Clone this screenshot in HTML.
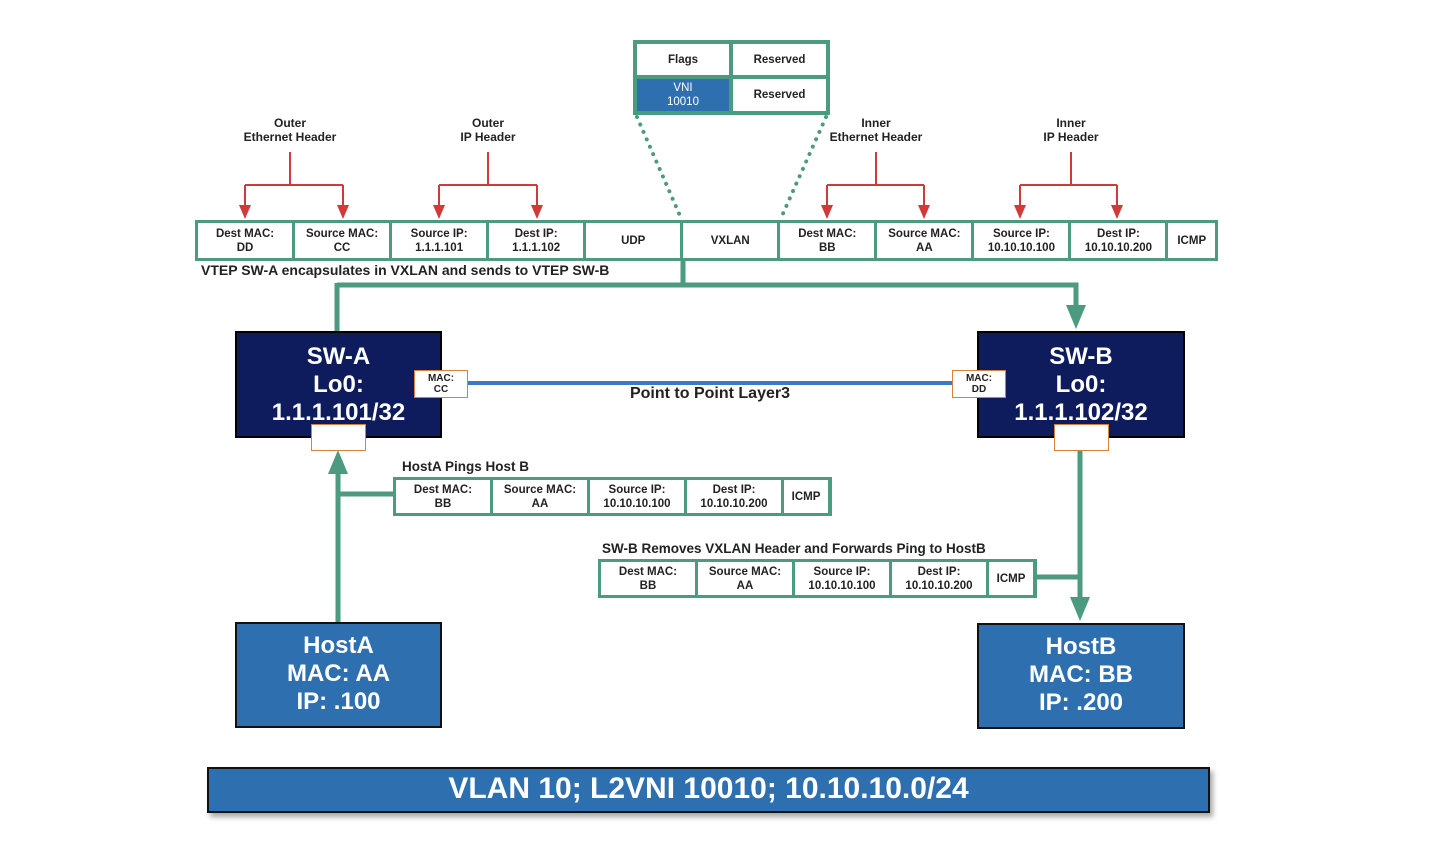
<!DOCTYPE html>
<html><head><meta charset="utf-8"><style>
body{margin:0;width:1430px;height:858px;background:#fff;position:relative;overflow:hidden;font-family:"Liberation Sans",sans-serif}
.abs{position:absolute}
.row{position:absolute;background:#4c9a80;display:flex;gap:3px;padding:3px;box-sizing:border-box}
.row div{background:#fff;display:flex;align-items:center;justify-content:center;text-align:center;font-size:11.5px;font-weight:bold;line-height:14px;color:#222}
.lbl{position:absolute;font-size:12px;font-weight:bold;text-align:center;color:#222;line-height:14px;white-space:nowrap}
.sw{position:absolute;background:#0e1c5e;border:2px solid #000;box-sizing:border-box;color:#fff;font-size:24px;font-weight:bold;text-align:center;line-height:28px;padding-top:10px}
.host{position:absolute;background:#2e6fb0;border:2px solid #111;box-sizing:border-box;color:#fff;font-size:24px;font-weight:bold;text-align:center;line-height:28px;padding-top:8px}
.port{position:absolute;background:#fff;border:1.5px solid #d9803a;box-sizing:border-box;font-size:10px;font-weight:bold;text-align:center;line-height:11px;padding-top:2px;color:#222}
</style></head><body>
<svg class="abs" style="left:0;top:0" width="1430" height="858">
<g stroke="#d03a3a" stroke-width="2" fill="none">
<path d="M290 152V185M245 185H343M245 185V210M343 185V210"/>
<path d="M488 152V185M439 185H537M439 185V210M537 185V210"/>
<path d="M876 152V185M827 185H924M827 185V210M924 185V210"/>
<path d="M1071 152V185M1020 185H1117M1020 185V210M1117 185V210"/>
</g>
<g fill="#d03a3a">
<path d="M239 205h12l-6 14z"/><path d="M337 205h12l-6 14z"/>
<path d="M433 205h12l-6 14z"/><path d="M531 205h12l-6 14z"/>
<path d="M821 205h12l-6 14z"/><path d="M918 205h12l-6 14z"/>
<path d="M1014 205h12l-6 14z"/><path d="M1111 205h12l-6 14z"/>
</g>
<g stroke="#4c9a80" stroke-width="4" stroke-dasharray="0.1 8" stroke-linecap="round">
<line x1="637" y1="117" x2="681" y2="218"/><line x1="826" y1="117" x2="781" y2="218"/>
</g>
<g stroke="#4c9a80" stroke-width="5" fill="none">
<path d="M683 258V285H1076V312M337 285H683M337 283V332"/>
<path d="M338 622V470M338 494H394"/>
<path d="M1080 450V600M1036 577H1080"/>
</g>
<g fill="#4c9a80">
<path d="M1066 305h20l-10 24z"/>
<path d="M328 474h20l-10 -24z"/>
<path d="M1070 597h20l-10 24z"/>
</g>
<line x1="466" y1="383" x2="953" y2="383" stroke="#3a7cc4" stroke-width="4"/>
</svg>

<div class="lbl" style="left:230px;top:116px;width:120px">Outer<br>Ethernet Header</div>
<div class="lbl" style="left:428px;top:116px;width:120px">Outer<br>IP Header</div>
<div class="lbl" style="left:816px;top:116px;width:120px">Inner<br>Ethernet Header</div>
<div class="lbl" style="left:1011px;top:116px;width:120px">Inner<br>IP Header</div>

<div class="row" style="left:633px;top:40px;width:197px;height:75px;flex-wrap:wrap;padding:4px;gap:4px">
<div style="width:92px;height:31px">Flags</div><div style="width:93px;height:31px">Reserved</div>
<div style="width:92px;height:32px;background:#2e6fb0;color:#fff;font-weight:normal">VNI<br>10010</div><div style="width:93px;height:32px">Reserved</div>
</div>

<div class="row" style="left:195px;top:220px;width:1023px;height:41px">
<div style="width:95px">Dest MAC:<br>DD</div><div style="width:95px">Source MAC:<br>CC</div><div style="width:95px">Source IP:<br>1.1.1.101</div><div style="width:95px">Dest IP:<br>1.1.1.102</div><div style="width:95px">UDP</div><div style="width:95px">VXLAN</div><div style="width:95px">Dest MAC:<br>BB</div><div style="width:95px">Source MAC:<br>AA</div><div style="width:95px">Source IP:<br>10.10.10.100</div><div style="width:95px">Dest IP:<br>10.10.10.200</div><div style="width:47px">ICMP</div>
</div>
<div class="lbl" style="left:201px;top:263px;font-size:14px;text-align:left">VTEP SW-A encapsulates in VXLAN and sends to VTEP SW-B</div>

<div class="sw" style="left:235px;top:331px;width:207px;height:107px">SW-A<br>Lo0:<br>1.1.1.101/32</div>
<div class="sw" style="left:977px;top:331px;width:208px;height:107px">SW-B<br>Lo0:<br>1.1.1.102/32</div>
<div class="port" style="left:414px;top:370px;width:54px;height:28px">MAC:<br>CC</div>
<div class="port" style="left:952px;top:370px;width:54px;height:28px">MAC:<br>DD</div>
<div class="port" style="left:311px;top:424px;width:55px;height:27px"></div>
<div class="port" style="left:1054px;top:424px;width:55px;height:27px"></div>
<div class="lbl" style="left:600px;top:387px;width:220px;font-size:16px">Point to Point Layer3</div>

<div class="lbl" style="left:402px;top:460px;font-size:13.5px;text-align:left">HostA Pings Host B</div>
<div class="row" style="left:393px;top:477px;width:439px;height:39px">
<div style="width:94px">Dest MAC:<br>BB</div><div style="width:94px">Source MAC:<br>AA</div><div style="width:94px">Source IP:<br>10.10.10.100</div><div style="width:94px">Dest IP:<br>10.10.10.200</div><div style="width:44px">ICMP</div>
</div>

<div class="lbl" style="left:602px;top:542px;font-size:13.5px;text-align:left">SW-B Removes VXLAN Header and Forwards Ping to HostB</div>
<div class="row" style="left:598px;top:559px;width:439px;height:39px">
<div style="width:94px">Dest MAC:<br>BB</div><div style="width:94px">Source MAC:<br>AA</div><div style="width:94px">Source IP:<br>10.10.10.100</div><div style="width:94px">Dest IP:<br>10.10.10.200</div><div style="width:44px">ICMP</div>
</div>

<div class="host" style="left:235px;top:622px;width:207px;height:106px">HostA<br>MAC: AA<br>IP: .100</div>
<div class="host" style="left:977px;top:623px;width:208px;height:106px">HostB<br>MAC: BB<br>IP: .200</div>

<div class="abs" style="left:207px;top:767px;width:1003px;height:46px;background:#2e6fb0;border:2px solid #111;box-sizing:border-box;box-shadow:3px 4px 5px rgba(0,0,0,0.35);color:#fff;font-size:30px;font-weight:bold;text-align:center;line-height:40px">VLAN 10; L2VNI 10010; 10.10.10.0/24</div>
</body></html>
